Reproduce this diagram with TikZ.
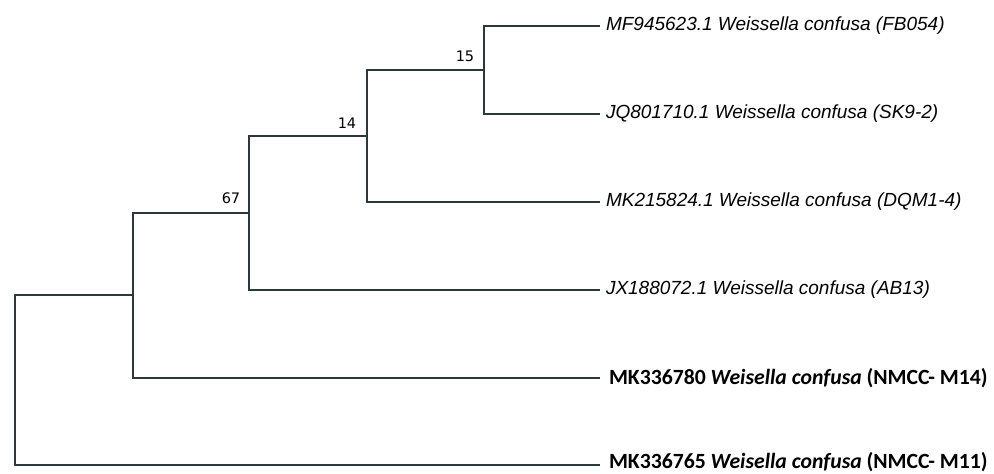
\documentclass[tikz,border=0pt]{standalone}
\usepackage{fontspec}
\setmainfont{Liberation Sans}
\newfontfamily\calibrifont{Carlito}
\newfontfamily\bootfont{DejaVu Sans}
\usepackage{tikz}
\usetikzlibrary{positioning}
\definecolor{branch}{HTML}{2B383C}

\begin{document}
\begin{tikzpicture}[x=1pt,y=-1pt,line width=1.6pt,
  taxon/.style={inner xsep=6pt,inner ysep=0pt,outer sep=0pt,font=\fontsize{19}{21}\selectfont\itshape},
  ours/.style={inner xsep=9pt,inner ysep=0pt,outer sep=0pt,font=\calibrifont\fontsize{21.7}{24}\selectfont\bfseries},
  boot/.style={inner sep=0pt,font=\bootfont\fontsize{14.5}{16}\selectfont}]
\useasboundingbox (0,0) rectangle (994,474);
% internal nodes (x = depth, y = middle of the children)
\coordinate (nD) at (484,70);
\coordinate (nC) at (367,136);
\coordinate (nB) at (249,213);
\coordinate (nA) at (133,295);
\coordinate (nR) at (15,380);
% leaf tips
\foreach \i/\y in {1/26,2/114,3/202,4/290,5/378,6/465}
  \coordinate (t\i) at (600,\y);
% leaves
\foreach \i/\t in {1/MF945623.1 Weissella confusa (FB054),2/JQ801710.1 Weissella confusa (SK9-2),3/MK215824.1 Weissella confusa (DQM1-4),4/JX188072.1 Weissella confusa (AB13)}
  \node[taxon,right=0pt of t\i] (l\i) {\t};
\node[ours,right=0pt of t5] (l5) {MK336780 \textit{Weisella confusa} (NMCC- M14)};
\node[ours,right=0pt of t6,yshift=3pt] (l6) {MK336765 \textit{Weisella confusa} (NMCC- M11)};
% branches
\draw[branch] (nD) |- (t1) (nD) |- (t2);
\draw[branch] (nC) |- (nD) (nC) |- (t3);
\draw[branch] (nB) |- (nC) (nB) |- (t4);
\draw[branch] (nA) |- (nB) (nA) |- (t5);
\draw[branch] (nR) |- (nA) (nR) |- (t6);
% bootstrap values
\node[boot,above left=7pt and 9pt of nD] (b15) {15};
\node[boot,above left=7pt and 10pt of nC] (b14) {14};
\node[boot,above left=8pt and 8pt of nB] (b67) {67};
\end{tikzpicture}
\end{document}
